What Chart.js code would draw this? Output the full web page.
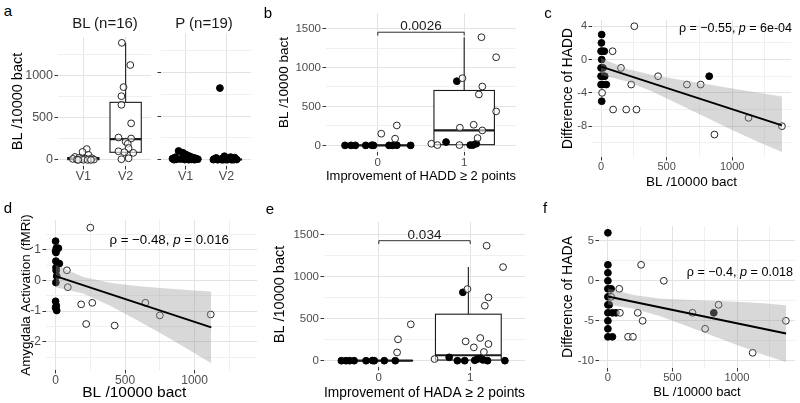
<!DOCTYPE html>
<html>
<head>
<meta charset="utf-8">
<script src="https://cdn.jsdelivr.net/npm/chart.js@4.4.1/dist/chart.umd.min.js"></script>
<style>
  body { margin: 0; background: #fff; width: 800px; height: 403px; position: relative; overflow: hidden;
         font-family: "Liberation Sans", Arial, sans-serif; }
  canvas { position: absolute; z-index: 1; }
  .t { position: absolute; z-index: 2; white-space: nowrap; color: #000; transform: translate(-50%, -50%); }
  .letter { font-size: 15px; }
  .strip { font-size: 15px; color: #1a1a1a; }
  .cor { position: absolute; z-index: 2; white-space: nowrap; color: #000; transform: translate(-100%, -50%); }
</style>
</head>
<body>
<div class="t letter" style="left:8px;top:10px">a</div>
<div class="t letter" style="left:268px;top:12px">b</div>
<div class="t letter" style="left:548px;top:12px">c</div>
<div class="t letter" style="left:8px;top:207px">d</div>
<div class="t letter" style="left:270px;top:208px">e</div>
<div class="t letter" style="left:545px;top:207px">f</div>
<div class="t strip" style="left:105px;top:22px">BL (n=16)</div>
<div class="t strip" style="left:204px;top:22px">P (n=19)</div>
<div class="cor" style="left:792px;top:28px;font-size:12.5px">ρ = −0.55, <i>p</i> = 6e-04</div>
<div class="cor" style="left:229px;top:239px;font-size:13.3px">ρ = −0.48, <i>p</i> = 0.016</div>
<div class="cor" style="left:793px;top:272px;font-size:12.6px">ρ = −0.4, <i>p</i> = 0.018</div>

<script>
// ---- panel a: bacteria per visit, BL and P groups ----
const visitLabels = ['V1', 'V2'];
const blV1 = [128, 94, 60, 35, 25, 20, 15, 12, 10, 8, 5, 3, 2, 0, 0, 0];
const blV1Jit = [1.08, 0.98, 1.12, 0.80, 0.90, 1.20, 1.05, 0.75, 0.95, 1.15, 1.25, 0.85, 1.00, 0.88, 1.10, 1.18];
const blV2 = [1383, 1121, 860, 753, 651, 432, 265, 253, 216, 190, 140, 102, 91, 83, 19, 8];
const blV2Jit = [1.91, 2.11, 1.95, 1.90, 1.90, 2.13, 1.83, 2.13, 2.00, 2.05, 2.07, 1.83, 1.97, 2.18, 2.07, 1.90];
const pV1 = [100, 80, 62, 45, 35, 28, 22, 18, 15, 12, 10, 8, 6, 5, 3, 2, 0, 0, 0];
const pV1Jit = [0.83, 0.93, 1.00, 1.07, 1.12, 0.75, 1.20, 0.95, 1.25, 0.68, 1.05, 0.88, 1.30, 0.78, 1.15, 0.98, 0.72, 1.22, 1.08];
const pV2 = [821, 40, 30, 25, 20, 15, 10, 8, 5, 4, 3, 2, 1, 0, 0, 0, 0, 0, 0];
const pV2Jit = [1.84, 1.95, 2.10, 2.20, 1.75, 1.90, 2.05, 1.70, 2.15, 1.80, 1.98, 2.25, 1.68, 1.88, 2.02, 2.12, 1.78, 1.93, 2.18];
// box stats: [lower whisker, q1, median, q3, upper whisker]
const blBoxV1 = [0, 3, 12, 28, 60];
const blBoxV2 = [8, 90, 245, 680, 1383];
const pBoxV1 = [0, 3, 10, 22, 60];
const pBoxV2 = [0, 0, 2, 6, 15];

// ---- panel b: improvement of HADD (0/1) ----
const groupLabels = ['0', '1'];
const hadd0OpenX = [0.04, 0.22, 0.20];
const hadd0OpenY = [150, 256, 86];
const hadd0FillX = [-0.38, -0.31, -0.26, -0.14, -0.07, -0.05, 0.13, 0.17, 0.22, 0.38];
const hadd0FillY = [0, 0, 0, 0, 2, 0, 0, 0, 2, 0];
const hadd1OpenX = [1.20, 1.37, 0.98, 1.21, 1.17, 1.37, 1.11, 0.95, 1.21, 1.155, 0.62, 0.69, 0.945];
const hadd1OpenY = [1389, 1132, 863, 756, 654, 436, 265, 227, 192, 94, 21, 4, 4];
const hadd1FillX = [0.915, 0.79, 1.07, 1.10, 1.14];
const hadd1FillY = [824, 43, 4, 4, 21];
const haddBox0 = [0, 0, 0, 0, 0];
const haddBox1 = [0, 9, 192, 705, 1389];
const haddP = '0.0026';
const haddBracket = [1453, 1410];

// ---- panel c: BL vs difference of HADD ----
const cFillX = [5, 3, 0, 8, 25, 5, 0, 15, 0, 15, 28, 825, 0, 10, 40, 5];
const cFillY = [3, 2, 1, 1, 1, 0, -1, -1, -2, -2, -2, -2, -3, -3, -3, -5];
const cOpenX = [254, 88, 152, 435, 230, 655, 760, 8, 92, 192, 270, 1125, 1380, 865];
const cOpenY = [4, 1, -1, -2, -3, -3, -3, -4, -6, -6, -6, -7, -8, -9];
const cFitX = [0, 1380];
const cFitY = [-0.85, -7.9];
const cBandX = [0, 200, 400, 600, 800, 1000, 1200, 1380];
const cBandLo = [-1.85, -2.62, -3.89, -5.42, -6.94, -8.46, -9.9, -11.1];
const cBandHi = [0.15, -1.12, -1.89, -2.42, -2.94, -3.46, -4.0, -4.45];

// ---- panel d: BL vs amygdala activation ----
const dFillX = [0, 5, 20, 0, 3, 2, 27, 3, 4, 8, 2, 0, 5, 0, 8];
const dFillY = [1.28, 1.05, 1.05, 0.95, 0.91, 0.63, 0.55, 0.42, 0.32, 0.14, -0.07, -0.68, -0.82, -0.89, -0.98];
const dOpenX = [250, 81, 88, 184, 264, 220, 425, 646, 750, 1116];
const dOpenY = [1.72, 0.33, -0.22, -0.78, -0.73, -1.42, -1.47, -0.73, -1.14, -1.11];
const dFitX = [0, 1120];
const dFitY = [0.14, -1.53];
const dBandX = [0, 200, 400, 600, 800, 1000, 1120];
const dBandLo = [-0.22, -0.43, -0.84, -1.33, -1.84, -2.37, -2.70];
const dBandHi = [0.50, 0.11, -0.08, -0.19, -0.26, -0.33, -0.36];

// ---- panel e: improvement of HADA (0/1) ----
const hada0OpenX = [0.20, 0.21, 0.35];
const hada0OpenY = [99, 255, 434];
const hada0FillX = [-0.41, -0.36, -0.32, -0.27, -0.14, -0.07, -0.05, 0.06, 0.18];
const hada0FillY = [0, 0, 0, 0, 0, 2, 0, 0, 0];
const hada1OpenX = [1.18, 1.36, 0.97, 1.20, 1.16, 0.95, 1.11, 1.20, 1.04, 1.15, 0.61];
const hada1OpenY = [1372, 1117, 855, 755, 656, 230, 271, 199, 159, 104, 20];
const hada1FillX = [0.92, 0.77, 0.86, 0.94, 1.05, 1.08, 1.12, 1.14, 1.19, 1.38];
const hada1FillY = [816, 40, 0, 0, 5, 20, 30, 10, 0, 0];
const hadaBox0 = [0, 0, 0, 2, 2];
const hadaBox1 = [0, 8, 65, 555, 1117];
const hadaP = '0.034';
const hadaBracket = [1432, 1392];

// ---- panel f: BL vs difference of HADA ----
const fFillX = [0, 0, 0, 0, 0, 25, 0, 0, 10, 0, 35, 63, 0, 0, 0, 35, 820];
const fFillY = [6, 2, 1, 0, -1, -1, -2, -3, -3, -4, -4, -4, -5, -6, -7, -7, -4];
const fOpenX = [257, 433, 88, 25, 93, 231, 269, 156, 194, 655, 857, 753, 1121, 1378];
const fOpenY = [2, 0, -1, -2, -4, -4, -5, -7, -7, -4, -3, -6, -9, -5];
const fFitX = [0, 1380];
const fFitY = [-1.96, -6.6];
const fBandX = [0, 200, 400, 600, 800, 1000, 1200, 1380];
const fBandLo = [-2.96, -3.48, -4.40, -5.58, -6.80, -8.02, -9.20, -10.15];
const fBandHi = [-0.96, -1.78, -2.20, -2.38, -2.50, -2.62, -2.80, -3.05];

// ---- shared bits ----
const FONT = '"Liberation Sans", Arial, sans-serif';
const MAJOR = '#E3E3E3', MINOR = '#F0F0F0';
const BAND = 'rgba(153,153,153,0.38)';
const bactTicks = [0, 250, 500, 750, 1000, 1250];
const bactMajors = [0, 500, 1000];
const countTicks = [0, 250, 500, 750, 1000, 1250, 1500];
const countMajors = [0, 500, 1000, 1500];

const pts = (xs, ys) => xs.map((x, i) => ({x: x, y: ys[i]}));

function openSet(xs, ys) {
  return {data: pts(xs, ys), pointRadius: 3.4, pointBorderWidth: 1,
    borderColor: '#262626', backgroundColor: 'rgba(255,255,255,0.6)', order: 4};
}
function fillSet(xs, ys) {
  return {data: pts(xs, ys), pointRadius: 3.4, pointBorderWidth: 1,
    borderColor: '#000', backgroundColor: '#000', order: 5};
}
function smoothSets(bx, lo, hi, fx, fy) {
  return [
    {type: 'line', data: pts(bx, lo), borderColor: 'rgba(0,0,0,0)', borderWidth: 0, pointRadius: 0, fill: false, order: 3},
    {type: 'line', data: pts(bx, hi), borderColor: 'rgba(0,0,0,0)', borderWidth: 0, pointRadius: 0, fill: '-1', backgroundColor: BAND, order: 2},
    {type: 'line', data: pts(fx, fy), borderColor: '#000', borderWidth: 2, pointRadius: 0, fill: false, order: 1}
  ];
}

function linScale(o) {
  const isMajor = v => o.majors.includes(v);
  return {
    type: 'linear', min: o.min, max: o.max,
    afterBuildTicks: s => { s.ticks = o.ticks.map(v => ({value: v})); },
    afterFit: s => { if (s.isHorizontal()) s.height = o.size; else s.width = o.size; },
    border: {display: false},
    grid: {
      color: c => (c.tick && isMajor(c.tick.value)) ? MAJOR : MINOR,
      tickColor: c => (c.tick && isMajor(c.tick.value)) ? '#333' : 'rgba(0,0,0,0)',
      tickLength: 3.5, tickWidth: 1, lineWidth: 1
    },
    ticks: {
      display: o.showLabels !== false, autoSkip: false, maxRotation: 0, minRotation: 0,
      padding: o.pad == null ? 1.5 : o.pad,
      color: '#4D4D4D', font: {family: FONT, size: o.tickSize},
      callback: v => isMajor(v) ? (o.labels ? o.labels[o.majors.indexOf(v)] : String(v)) : ''
    },
    title: o.title ? {display: true, text: o.title, color: '#000',
      font: {family: FONT, size: o.titleSize}, padding: o.titlePad} : {display: false}
  };
}

// white boxes with whiskers and a thick median, drawn under the points
function boxPlugin(items) {
  return {
    id: 'boxes',
    beforeDatasetsDraw(chart) {
      const {ctx, scales: {x, y}} = chart;
      items.forEach(b => {
        const [lo, q1, med, q3, hi] = b.stats;
        const xl = x.getPixelForValue(b.x - b.w), xr = x.getPixelForValue(b.x + b.w);
        const xc = x.getPixelForValue(b.x);
        const top = y.getPixelForValue(q3), bot = y.getPixelForValue(q1);
        ctx.save();
        ctx.strokeStyle = '#1a1a1a';
        ctx.lineWidth = 1.1;
        ctx.beginPath();
        ctx.moveTo(xc, top); ctx.lineTo(xc, y.getPixelForValue(hi));
        ctx.moveTo(xc, bot); ctx.lineTo(xc, y.getPixelForValue(lo));
        ctx.stroke();
        ctx.fillStyle = '#fff';
        ctx.fillRect(xl, top, xr - xl, bot - top);
        ctx.strokeRect(xl, top, xr - xl, bot - top);
        ctx.lineWidth = 2.2;
        ctx.beginPath();
        ctx.moveTo(xl, y.getPixelForValue(med)); ctx.lineTo(xr, y.getPixelForValue(med));
        ctx.stroke();
        ctx.restore();
      });
    }
  };
}

// significance bracket between group 0 and 1
function bracketPlugin(yv, yTick, label, size) {
  return {
    id: 'bracket',
    afterDatasetsDraw(chart) {
      const {ctx, scales: {x, y}} = chart;
      const x0 = x.getPixelForValue(0), x1 = x.getPixelForValue(1);
      const yy = y.getPixelForValue(yv), yt = y.getPixelForValue(yTick);
      ctx.save();
      ctx.strokeStyle = '#1a1a1a';
      ctx.lineWidth = 0.9;
      ctx.beginPath();
      ctx.moveTo(x0, yt); ctx.lineTo(x0, yy); ctx.lineTo(x1, yy); ctx.lineTo(x1, yt);
      ctx.stroke();
      ctx.fillStyle = '#1a1a1a';
      ctx.font = size + 'px ' + FONT;
      ctx.textAlign = 'center';
      ctx.textBaseline = 'bottom';
      ctx.fillText(label, (x0 + x1) / 2, yy + 1);
      ctx.restore();
    }
  };
}

function addCanvas(left, top, w, h) {
  const cv = document.createElement('canvas');
  cv.width = w; cv.height = h;
  cv.style.left = left + 'px'; cv.style.top = top + 'px';
  cv.style.width = w + 'px'; cv.style.height = h + 'px';
  document.body.appendChild(cv);
  return cv;
}

function makeChart(box, pad, scales, datasets, plugins) {
  const cv = addCanvas(box[0], box[1], box[2], box[3]);
  return new Chart(cv, {
    type: 'scatter',
    data: {datasets: datasets},
    options: {
      responsive: false, animation: false, devicePixelRatio: 1,
      layout: {padding: pad},
      plugins: {legend: {display: false}, tooltip: {enabled: false}},
      scales: scales
    },
    plugins: plugins || []
  });
}

// ---------- panel a, facet BL ----------
makeChart([0, 28, 156, 172], {top: 5, right: 4, bottom: 0, left: 0}, {
  x: linScale({min: 0.4, max: 2.6, ticks: [1, 2], majors: [1, 2], labels: visitLabels, size: 34, tickSize: 12.5, pad: 0}),
  y: linScale({min: -72, max: 1452, ticks: bactTicks, majors: bactMajors, size: 58, tickSize: 12.5,
    title: 'BL /10000 bact', titleSize: 14.5, titlePad: {top: 9.3}})
}, [openSet(blV1Jit, blV1), openSet(blV2Jit, blV2)],
[boxPlugin([{x: 1, w: 0.37, stats: blBoxV1}, {x: 2, w: 0.37, stats: blBoxV2}])]);

// ---------- panel a, facet P ----------
makeChart([156, 28, 100, 172], {top: 5, right: 4, bottom: 0, left: 0}, {
  x: linScale({min: 0.4, max: 2.6, ticks: [1, 2], majors: [1, 2], labels: visitLabels, size: 34, tickSize: 12.5, pad: 0}),
  y: linScale({min: -72, max: 1452, ticks: bactTicks, majors: bactMajors, size: 1, tickSize: 12.5, showLabels: false})
}, [fillSet(pV1Jit, pV1), fillSet(pV2Jit, pV2)],
[boxPlugin([{x: 1, w: 0.37, stats: pBoxV1}, {x: 2, w: 0.37, stats: pBoxV2}])]);

// ---------- panel b ----------
makeChart([262, 0, 268, 200], {top: 13, right: 14, bottom: 0, left: 0}, {
  x: linScale({min: -0.6, max: 1.6, ticks: [0, 1], majors: [0, 1], labels: groupLabels, size: 48, tickSize: 11.5, pad: 0,
    title: 'Improvement of HADD \u2265 2 points', titleSize: 13.5, titlePad: {bottom: 15.9}}),
  y: linScale({min: -85, max: 1700, ticks: countTicks, majors: countMajors, size: 64, tickSize: 11.5,
    title: 'BL /10000 bact', titleSize: 13.5, titlePad: {top: 13.9}})
}, [openSet(hadd0OpenX, hadd0OpenY), openSet(hadd1OpenX, hadd1OpenY),
    fillSet(hadd0FillX, hadd0FillY), fillSet(hadd1FillX, hadd1FillY)],
[boxPlugin([{x: 0, w: 0.37, stats: haddBox0}, {x: 1, w: 0.35, stats: haddBox1}]),
 bracketPlugin(haddBracket[0], haddBracket[1], haddP, 13.5)]);

// ---------- panel c ----------
makeChart([530, 0, 270, 200], {top: 20, right: 9, bottom: 0, left: 0}, {
  x: linScale({min: -69, max: 1449, ticks: bactTicks, majors: bactMajors, size: 43, tickSize: 11, pad: 0,
    title: 'BL /10000 bact', titleSize: 13.5, titlePad: {bottom: 9.9}}),
  y: linScale({min: -11.7, max: 4.75, ticks: [-10, -8, -6, -4, -2, 0, 2, 4], majors: [-8, -4, 0, 4], size: 62, tickSize: 11,
    title: 'Difference of HADD', titleSize: 13.8, titlePad: {top: 29.7}})
}, [openSet(cOpenX, cOpenY), fillSet(cFillX, cFillY)].concat(smoothSets(cBandX, cBandLo, cBandHi, cFitX, cFitY)));

// ---------- panel d ----------
// trailing spaces pull the x title left, as in the original figure
makeChart([0, 200, 262, 203], {top: 20, right: 5, bottom: 0, left: 0}, {
  x: linScale({min: -69, max: 1449, ticks: bactTicks, majors: bactMajors, size: 33, tickSize: 12, pad: 0,
    title: 'BL /10000 bact' + '\u00a0'.repeat(8), titleSize: 15.5, titlePad: {bottom: 1}}),
  y: linScale({min: -2.92, max: 1.97, ticks: [-2.5, -2, -1.5, -1, -0.5, 0, 0.5, 1, 1.5], majors: [-2, -1, 0, 1], size: 46, tickSize: 12,
    title: 'Amygdala Activation (fMRi)', titleSize: 13.4, titlePad: {top: 18}})
}, [openSet(dOpenX, dOpenY), fillSet(dFillX, dFillY)].concat(smoothSets(dBandX, dBandLo, dBandHi, dFitX, dFitY)));

// ---------- panel e ----------
makeChart([262, 200, 268, 203], {top: 22, right: 3, bottom: 0, left: 0}, {
  x: linScale({min: -0.6, max: 1.6, ticks: [0, 1], majors: [0, 1], labels: groupLabels, size: 36, tickSize: 11.5, pad: 0,
    title: 'Improvement of HADA \u2265 2 points', titleSize: 14, titlePad: {bottom: 1.6}}),
  y: linScale({min: -75, max: 1655, ticks: countTicks, majors: countMajors, size: 62, tickSize: 11.5,
    title: 'BL /10000 bact', titleSize: 14.5, titlePad: {top: 9.3}})
}, [openSet(hada0OpenX, hada0OpenY), openSet(hada1OpenX, hada1OpenY),
    fillSet(hada0FillX, hada0FillY), fillSet(hada1FillX, hada1FillY)],
[boxPlugin([{x: 0, w: 0.37, stats: hadaBox0}, {x: 0.98, w: 0.36, stats: hadaBox1}]),
 bracketPlugin(hadaBracket[0], hadaBracket[1], hadaP, 13.5)]);

// ---------- panel f ----------
makeChart([530, 200, 270, 203], {top: 26, right: 1, bottom: 0, left: 0}, {
  x: linScale({min: -69, max: 1449, ticks: bactTicks, majors: bactMajors, size: 35, tickSize: 11.2, pad: 0,
    title: 'BL /10000 bact', titleSize: 13, titlePad: {bottom: 3.2}}),
  y: linScale({min: -10.9, max: 6.85, ticks: [-10, -7.5, -5, -2.5, 0, 2.5, 5], majors: [-10, -5, 0, 5], size: 69, tickSize: 11.2,
    title: 'Difference of HADA', titleSize: 14, titlePad: {top: 29.6}})
}, [openSet(fOpenX, fOpenY), fillSet(fFillX, fFillY)].concat(smoothSets(fBandX, fBandLo, fBandHi, fFitX, fFitY)));
</script>
</body>
</html>
